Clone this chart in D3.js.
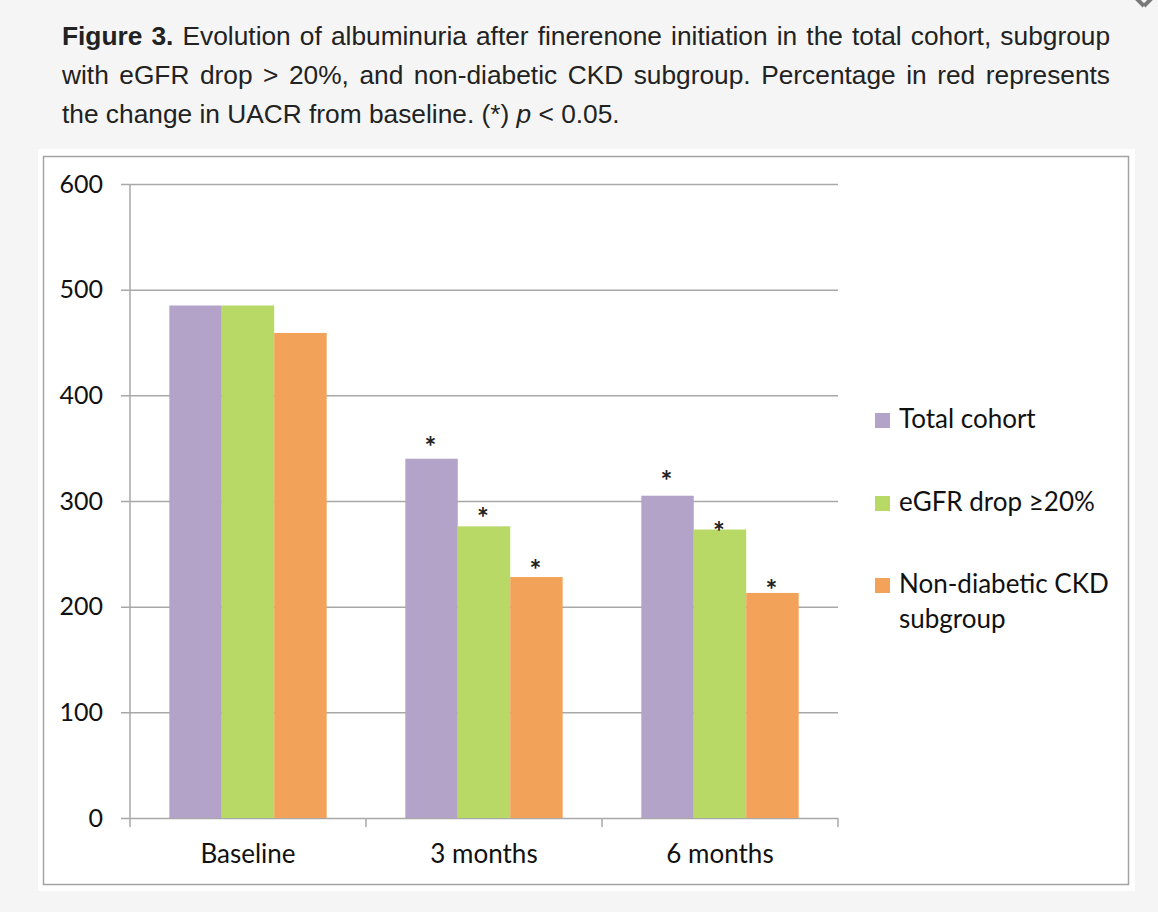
<!DOCTYPE html>
<html>
<head>
<meta charset="utf-8">
<script src="https://cdn.jsdelivr.net/npm/d3@7"></script>
<style>
  body { margin: 0; width: 1158px; height: 912px; overflow: hidden; position: relative;
         background: #f5f5f5; font-family: "Liberation Sans", Arial, sans-serif; }
  .cap { position: absolute; left: 62px; top: 17px; width: 1048px; font-size: 26.3px;
         line-height: 39px; color: #222; }
  .cap div { text-align: justify; text-align-last: justify; white-space: nowrap; }
  .cap div.last { text-align-last: left; }
  #chart { position: absolute; left: 0; top: 0; }
</style>
</head>
<body>
<div class="cap">
  <div><b>Figure 3.</b> Evolution of albuminuria after finerenone initiation in the total cohort, subgroup</div>
  <div>with eGFR drop &gt; 20%, and non-diabetic CKD subgroup. Percentage in red represents</div>
  <div class="last">the change in UACR from baseline. (*) <i>p</i> &lt; 0.05.</div>
</div>
<svg id="chart" width="1158" height="912"></svg>
<script>
// chart data
const categories = ['Baseline', '3 months', '6 months'];
const seriesNames = ['Total cohort', 'eGFR drop ≥20%', 'Non-diabetic CKD subgroup'];
const totalCohort = [485, 340, 305];
const egfrDrop = [485, 276, 273];
const nonDiabetic = [459, 228, 213];
// where the significance stars sit (value units), null = no star
const starTotal = [null, 356, 324];
const starEgfr = [null, 289, 276];
const starNonDiab = [null, 240, 221];
const yTicks = [0, 100, 200, 300, 400, 500, 600];

const colors = ['#b4a3c8', '#b8d965', '#f2a259'];
const values = [totalCohort, egfrDrop, nonDiabetic];
const stars = [starTotal, starEgfr, starNonDiab];

const svg = d3.select('#chart');
const font = 'Lato, "Open Sans", sans-serif';

// close icon of the page, cut by the top of the window
svg.append('path')
    .attr('d', 'M1132,-6 L1144,6 M1156,-6 L1144,6')
    .attr('stroke', '#7a7a7a').attr('stroke-width', 4).attr('fill', 'none');

// white panel with its grey border
svg.append('rect')
    .attr('x', 38).attr('y', 149).attr('width', 1097).attr('height', 742)
    .attr('fill', '#fff');
svg.append('rect')
    .attr('x', 43.5).attr('y', 156.5).attr('width', 1085).attr('height', 728)
    .attr('fill', 'none').attr('stroke', '#a3a3a3').attr('stroke-width', 1.5);

const plotLeft = 130, plotRight = 838, plotTop = 184, plotBottom = 818;

const yScale = d3.scaleLinear().domain([0, 600]).range([plotBottom, plotTop]);
const x0 = d3.scaleBand().domain(categories).range([plotLeft, plotRight])
    .paddingInner(1 / 3).paddingOuter(1 / 6);
const x1 = d3.scaleBand().domain(d3.range(seriesNames.length)).range([0, x0.bandwidth()]);

// gridlines + y labels
const yAxis = d3.axisLeft(yScale)
    .tickValues(yTicks)
    .tickSize(-(plotRight - plotLeft + 9))
    .tickPadding(18);

const gy = svg.append('g')
    .attr('transform', `translate(${plotLeft - 9},0)`)
    .call(yAxis);
gy.select('.domain').remove();
gy.selectAll('.tick line').attr('stroke', '#a8a8a8').attr('stroke-width', 1.5);
gy.selectAll('.tick text')
    .style('font-family', font)
    .style('font-size', '25px')
    .style('fill', '#111');

// vertical axis line
svg.append('line')
    .attr('x1', plotLeft).attr('x2', plotLeft)
    .attr('y1', plotTop).attr('y2', plotBottom + 9)
    .attr('stroke', '#a8a8a8').attr('stroke-width', 1.5);

// category boundary ticks
svg.selectAll('.xtick')
    .data(d3.range(1, categories.length + 1))
    .join('line')
    .attr('class', 'xtick')
    .attr('x1', i => x0.range()[0] + i * x0.step())
    .attr('x2', i => x0.range()[0] + i * x0.step())
    .attr('y1', plotBottom).attr('y2', plotBottom + 9)
    .attr('stroke', '#a8a8a8').attr('stroke-width', 1.5);

// category labels
svg.selectAll('.xlabel')
    .data(categories)
    .join('text')
    .attr('class', 'xlabel')
    .attr('x', d => x0(d) + x0.bandwidth() / 2)
    .attr('y', 863)
    .attr('text-anchor', 'middle')
    .style('font-family', font)
    .style('font-size', '26px')
    .style('fill', '#111')
    .text(d => d);

// bars
const groups = svg.selectAll('.grp')
    .data(categories)
    .join('g')
    .attr('class', 'grp')
    .attr('transform', d => `translate(${x0(d)},0)`);

groups.selectAll('rect')
    .data((c, ci) => values.map((v, si) => ({ si, v: v[ci] })))
    .join('rect')
    .attr('x', d => x1(d.si))
    .attr('width', x1.bandwidth())
    .attr('y', d => yScale(d.v))
    .attr('height', d => yScale(0) - yScale(d.v))
    .attr('fill', d => colors[d.si]);

// significance stars
groups.selectAll('.star')
    .data((c, ci) => stars.map((s, si) => ({ si, s: s[ci] })).filter(d => d.s !== null))
    .join('text')
    .attr('class', 'star')
    .attr('x', d => x1(d.si) + x1.bandwidth() / 2 - 1)
    .attr('y', d => yScale(d.s))
    .attr('dy', '0.55em')
    .attr('text-anchor', 'middle')
    .style('font-family', font)
    .style('font-size', '28px')
    .style('font-weight', 'bold')
    .style('fill', '#222')
    .text('*');

// legend
const legendY = [413, 496, 578];
const legend = svg.selectAll('.leg')
    .data(seriesNames)
    .join('g')
    .attr('class', 'leg')
    .attr('transform', (d, i) => `translate(875,${legendY[i]})`);

legend.append('rect')
    .attr('width', 15).attr('height', 15)
    .attr('fill', (d, i) => colors[i]);

legend.append('text')
    .attr('x', 24).attr('y', 15)
    .style('font-family', font)
    .style('font-size', '26px')
    .style('fill', '#111')
    .each(function (d) {
        const words = d === 'Non-diabetic CKD subgroup' ? ['Non-diabetic CKD', 'subgroup'] : [d];
        d3.select(this).selectAll('tspan')
            .data(words)
            .join('tspan')
            .attr('x', 24)
            .attr('dy', (w, i) => i === 0 ? 0 : 35)
            .text(w => w);
    });
</script>
</body>
</html>
